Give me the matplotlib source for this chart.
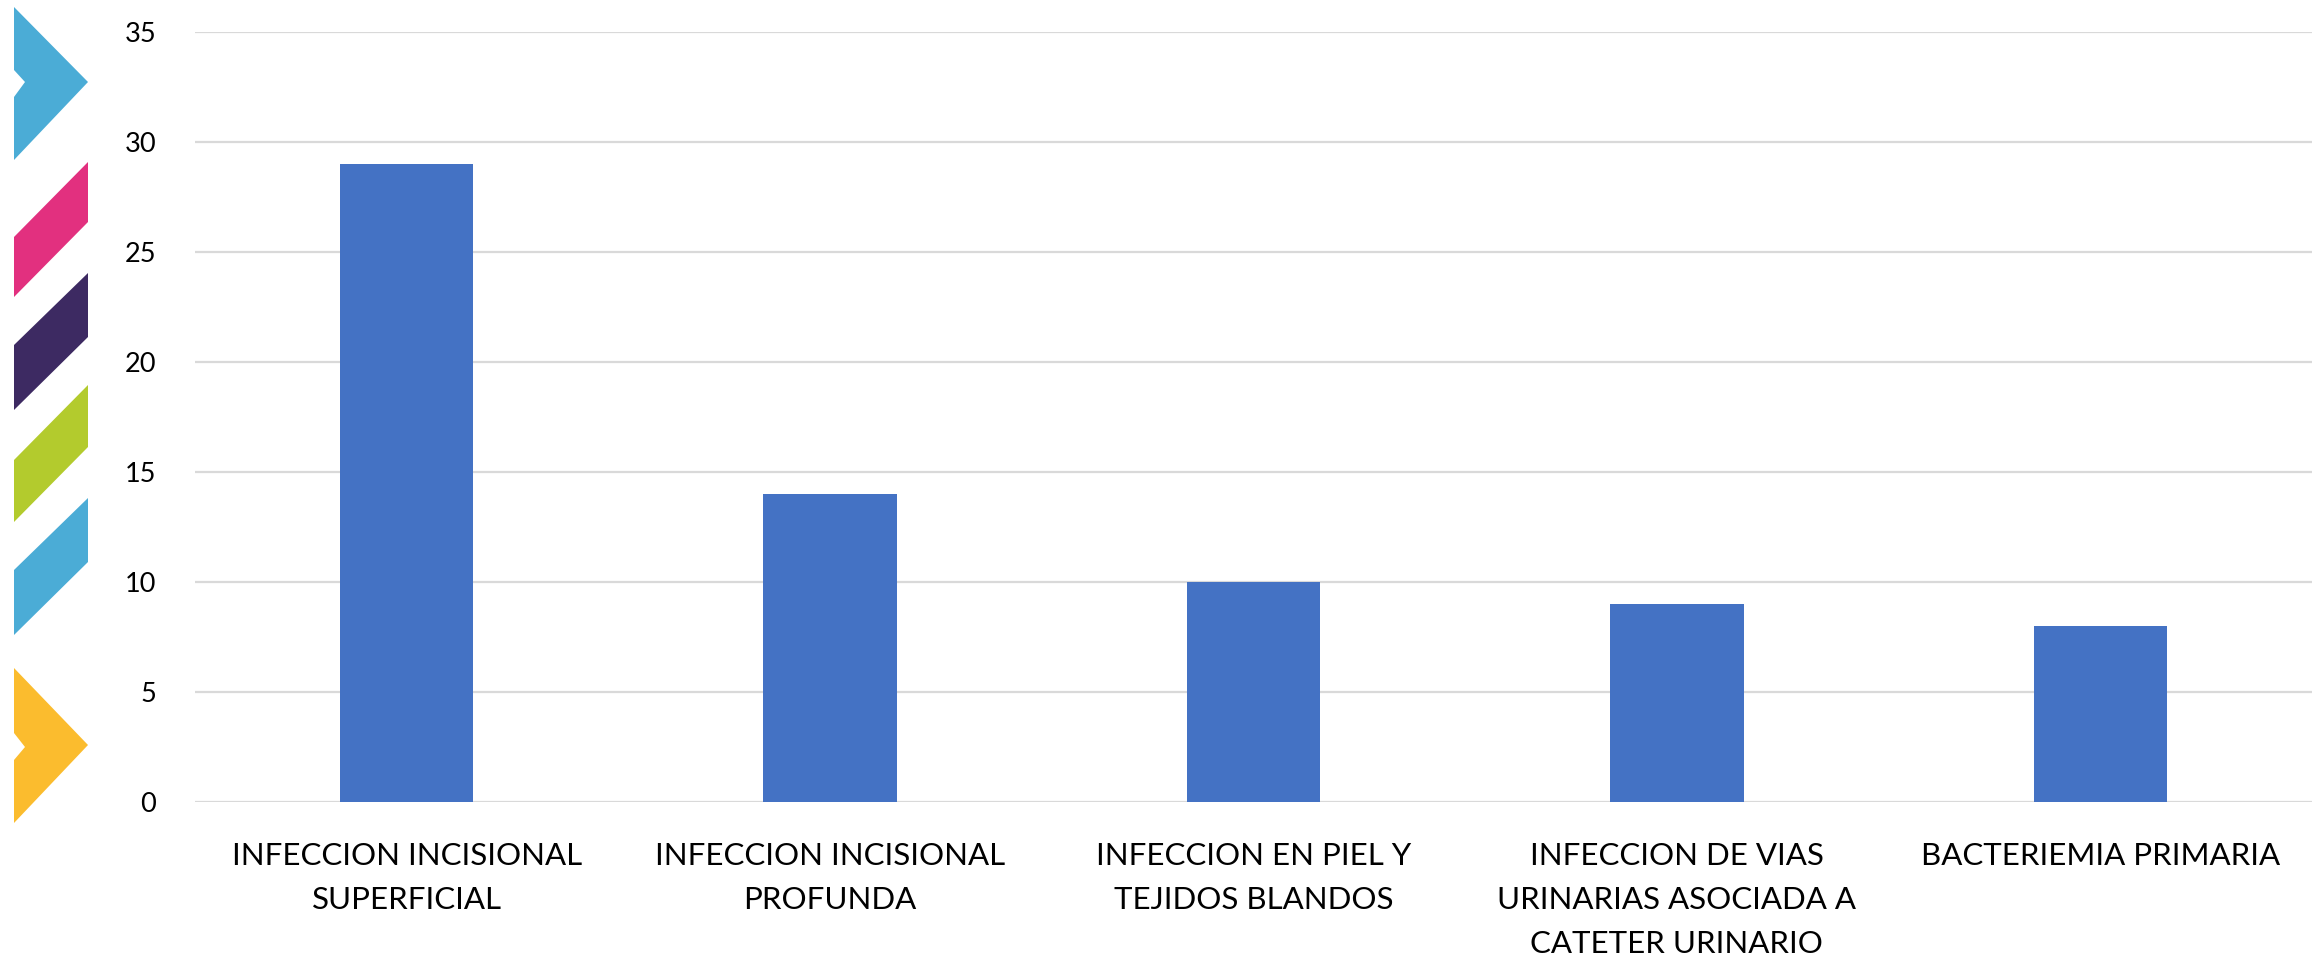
import matplotlib
matplotlib.use("Agg")
import matplotlib.pyplot as plt
from matplotlib.patches import Polygon

categories = [
    "INFECCION INCISIONAL\nSUPERFICIAL",
    "INFECCION INCISIONAL\nPROFUNDA",
    "INFECCION EN PIEL Y\nTEJIDOS BLANDOS",
    "INFECCION DE VIAS\nURINARIAS ASOCIADA A\nCATETER URINARIO",
    "BACTERIEMIA PRIMARIA",
]
values = [29, 14, 10, 9, 8]
yticks = [0, 5, 10, 15, 20, 25, 30, 35]

W, H = 2321, 958
DPI = 100
plt.rcParams['font.family'] = ['Lato', 'DejaVu Sans']

fig = plt.figure(figsize=(W / DPI, H / DPI), dpi=DPI)
fig.patch.set_facecolor('white')

left, right, top, bottom = 195, 2312, 32, 802
ax = fig.add_axes([left / W, 1 - bottom / H, (right - left) / W, (bottom - top) / H])

x = range(len(categories))
ax.bar(x, values, width=0.315, color='#4472C4', zorder=3)
ax.set_xlim(-0.5, len(categories) - 0.5)
ax.set_ylim(0, 35)
ax.set_yticks(yticks)
ax.set_yticklabels([str(t) for t in yticks], fontsize=19.5)
ax.set_xticks(list(x))
ax.set_xticklabels(categories, fontsize=22.5, linespacing=1.68)
ax.tick_params(axis='y', length=0, pad=28)
ax.tick_params(axis='x', length=0, pad=29)
ax.grid(axis='y', color='#d9d9d9', linewidth=1.6, zorder=0)
for s in ax.spines.values():
    s.set_visible(False)

# decorative chevrons on the left
def poly(pts, color):
    p = Polygon([(px / W, 1 - py / H) for px, py in pts], closed=True,
                facecolor=color, edgecolor='none', transform=fig.transFigure)
    fig.add_artist(p)

poly([(14, 7), (88, 82), (14, 160), (14, 97), (25, 82), (14, 70)], '#4BACD6')
poly([(88, 162), (88, 222), (14, 297), (14, 237)], '#E2307F')
poly([(88, 273), (88, 337), (14, 410), (14, 345)], '#3D2A62')
poly([(88, 385), (88, 447), (14, 522), (14, 460)], '#B3CB2D')
poly([(88, 498), (88, 562), (14, 635), (14, 570)], '#4BACD6')
poly([(14, 668), (88, 745), (14, 823), (14, 760), (25, 747), (14, 733)], '#FBBC2E')

fig.savefig('out.png', dpi=DPI, facecolor='white')
